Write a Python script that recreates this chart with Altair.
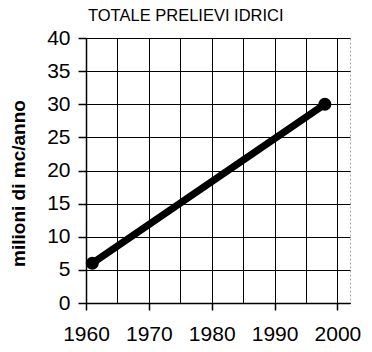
import altair as alt
import pandas as pd

years = [1961, 1998]
values = [6, 30]
x_grid = [1960, 1965, 1970, 1975, 1980, 1985, 1990, 1995, 2000]
y_ticks = [0, 5, 10, 15, 20, 25, 30, 35, 40]

df = pd.DataFrame({"anno": years, "valore": values})

font = "Liberation Sans"

chart = alt.Chart(df).mark_line(
    color="black", strokeWidth=7,
    point=alt.OverlayMarkDef(filled=True, color="black", size=170, shape="circle")
).encode(
    x=alt.X("anno:Q", scale=alt.Scale(domain=[1960, 2002], nice=False, zero=False),
            axis=alt.Axis(values=x_grid, title=None,
                          labelExpr="datum.value % 10 == 0 ? datum.label : ''",
                          format="d", labelOverlap=False, labelFlush=False, labelBound=False,
                          tickOpacity={"condition": {"test": "datum.value % 10 == 0", "value": 1}, "value": 0},
                          tickSize=7, labelPadding=13, labelFontSize=21,
                          grid=True, gridColor="black", gridWidth=1, gridOpacity=1,
                          domainColor="black", domainWidth=1.5, tickColor="black", tickWidth=1.5,
                          labelColor="black", labelFont=font)),
    y=alt.Y("valore:Q", scale=alt.Scale(domain=[0, 40], nice=False),
            axis=alt.Axis(values=y_ticks, title="milioni di mc/anno", labelOverlap=False,
                          labelFlush=False,
                          tickSize=8, labelPadding=8, labelFontSize=21,
                          grid=True, gridColor="black", gridWidth=1, gridOpacity=1,
                          domainColor="black", domainWidth=1.5, tickColor="black", tickWidth=1.5,
                          labelColor="black", labelFont=font,
                          titleFont=font, titleFontSize=19, titleFontWeight="bold", titleColor="black",
                          titleX=-68, titleY=145, titleAngle=270, titleAlign="center", titleBaseline="middle")),
).properties(
    width=264, height=265,
    title=alt.TitleParams("TOTALE PRELIEVI IDRICI", anchor="start", frame="group", dx=2, offset=3,
                          font=font, fontSize=16.5, fontWeight="normal", color="black"),
    autosize=alt.AutoSizeParams(type="none"),
    padding={"left": 86, "top": 38, "right": 22, "bottom": 49},
).configure_view(stroke="#aaaaaa", strokeDash=[2, 2], strokeWidth=1)

chart.save("out.html", embed_options={"renderer": "svg", "actions": False})
